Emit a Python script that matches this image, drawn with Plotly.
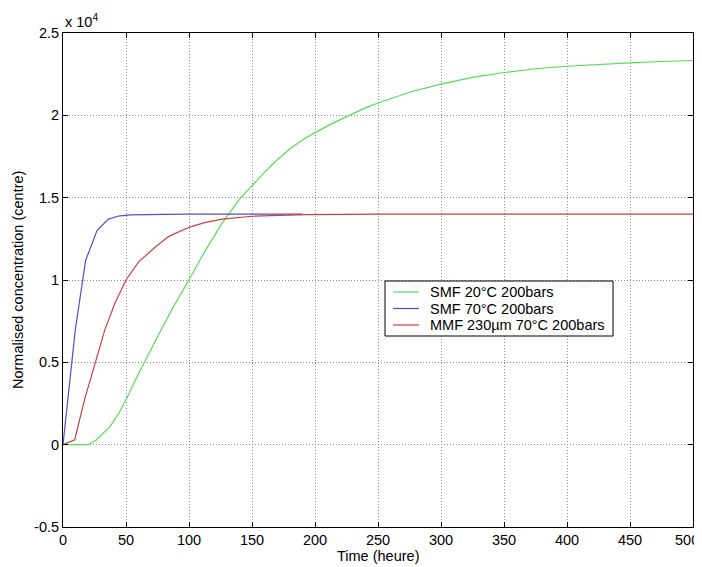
import plotly.graph_objects as go

# Values in units of 10^4
smf20_t = [0, 10, 20, 26.6, 37.2, 45, 50.5, 57.3, 63.8, 75, 87, 100, 113, 126.7, 140, 150, 160,
           170, 180, 190, 200, 213, 227, 240, 250, 275, 300, 325, 350, 375, 400, 425, 450, 475, 500]
smf20_y = [0, 0, 0, 0.03, 0.108, 0.2, 0.28, 0.39, 0.49, 0.655, 0.83, 1.0, 1.18, 1.35, 1.49, 1.575, 1.655,
           1.73, 1.795, 1.85, 1.895, 1.948, 2.0, 2.045, 2.075, 2.14, 2.19, 2.23, 2.26, 2.283, 2.298, 2.31,
           2.319, 2.327, 2.333]

smf70_t = [0, 6.6, 9.8, 18, 27, 36, 45, 54, 63, 80, 100, 130, 160, 190]
smf70_y = [0, 0.5, 0.70, 1.12, 1.30, 1.37, 1.39, 1.396, 1.398, 1.399, 1.4, 1.4, 1.4, 1.4]

mmf_t = [0, 9.3, 17.3, 26, 33.2, 41.3, 50, 60, 73.3, 84, 100, 113, 126.7, 150, 170, 193, 250, 300, 400, 500]
mmf_y = [0, 0.03, 0.28, 0.50, 0.697, 0.86, 1.0, 1.11, 1.20, 1.265, 1.32, 1.35, 1.37, 1.387, 1.393, 1.397,
         1.4, 1.4, 1.4, 1.4]

names = ["SMF 20°C 200bars", "SMF 70°C 200bars", "MMF 230µm 70°C 200bars"]
colors = ["#55dd55", "#5050cc", "#cc4040"]

x_ticks = [0, 50, 100, 150, 200, 250, 300, 350, 400, 450, 500]
x_ticklabels = ["0", "50", "100", "150", "200", "250", "300", "350", "400", "450", "500"]
y_ticks = [-0.5, 0, 0.5, 1, 1.5, 2, 2.5]
y_ticklabels = ["-0.5", "0", "0.5", "1", "1.5", "2", "2.5"]

# The page body adds an 8px offset; size the figure so the plot area lands
# at page pixels x 63..693, y 33..527.
OFF = 8
W, H = 702 - OFF, 567 - OFF
L, R, T, B = 63 - OFF, 9, 33 - OFF, 40
PW, PH = W - L - R, H - T - B


def px_x(px):
    return (px - OFF - L) / PW


def px_y(py):
    return (H - B - (py - OFF)) / PH


fig = go.Figure()
for t, y, n, c in [(smf20_t, smf20_y, names[0], colors[0]),
                   (smf70_t, smf70_y, names[1], colors[1]),
                   (mmf_t, mmf_y, names[2], colors[2])]:
    fig.add_trace(go.Scatter(x=t, y=y, mode="lines", name=n,
                             line=dict(color=c, width=1.2), showlegend=False))

font = "Liberation Sans, Arial, sans-serif"
FS = 14.5
axis_common = dict(
    showline=True, linecolor="#000000", linewidth=1, mirror="allticks",
    ticks="inside", ticklen=5, tickcolor="#000000",
    showgrid=True, gridcolor="#8c8c8c", griddash="1px,2px", gridwidth=1,
    zeroline=False, tickfont=dict(family=font, size=FS, color="#000000"),
    automargin=False, ticklabeloverflow="allow",
)

# last x tick label is drawn as an annotation so it stays inside the page edge
x_shown = x_ticklabels[:-1] + [""]

shapes = [dict(type="rect", xref="paper", yref="paper",
               x0=px_x(385), x1=px_x(613), y0=px_y(336), y1=px_y(281),
               line=dict(color="#000000", width=1), fillcolor="white", layer="above")]
annotations = [
    dict(text="x 10<sup>4</sup>", x=0, y=1, xref="paper", yref="paper",
         xanchor="left", yanchor="bottom", showarrow=False, yshift=1,
         font=dict(family=font, size=FS)),
    dict(text="Time (heure)", x=0.5, y=px_y(556), xref="paper", yref="paper",
         xanchor="center", yanchor="middle", showarrow=False,
         font=dict(family=font, size=FS)),
    dict(text="Normalised concentration (centre)", x=px_x(18), y=0.5, xref="paper", yref="paper",
         xanchor="center", yanchor="middle", showarrow=False, textangle=-90,
         font=dict(family=font, size=FS)),
    dict(text=x_ticklabels[-1], x=px_x(701), y=px_y(540), xref="paper", yref="paper",
         xanchor="right", yanchor="middle", showarrow=False,
         font=dict(family=font, size=FS)),
]
row_y = [292, 308.5, 325]
for n, c, ry in zip(names, colors, row_y):
    shapes.append(dict(type="line", xref="paper", yref="paper",
                       x0=px_x(393), x1=px_x(419), y0=px_y(ry), y1=px_y(ry),
                       line=dict(color=c, width=1.2), layer="above"))
    annotations.append(dict(text=n, x=px_x(428), y=px_y(ry), xref="paper", yref="paper",
                            xanchor="left", yanchor="middle", showarrow=False,
                            font=dict(family=font, size=FS)))

fig.update_layout(
    width=W, height=H,
    margin=dict(l=L, r=R, t=T, b=B),
    paper_bgcolor="white", plot_bgcolor="white",
    font=dict(family=font, size=FS, color="#000000"),
    xaxis=dict(range=[0, 500], tickvals=x_ticks, ticktext=x_shown, ticklabelstandoff=0, **axis_common),
    yaxis=dict(range=[-0.5, 2.5], tickvals=y_ticks, ticktext=y_ticklabels, **axis_common),
    showlegend=False,
    shapes=shapes,
    annotations=annotations,
)

fig.write_html("out.html")
